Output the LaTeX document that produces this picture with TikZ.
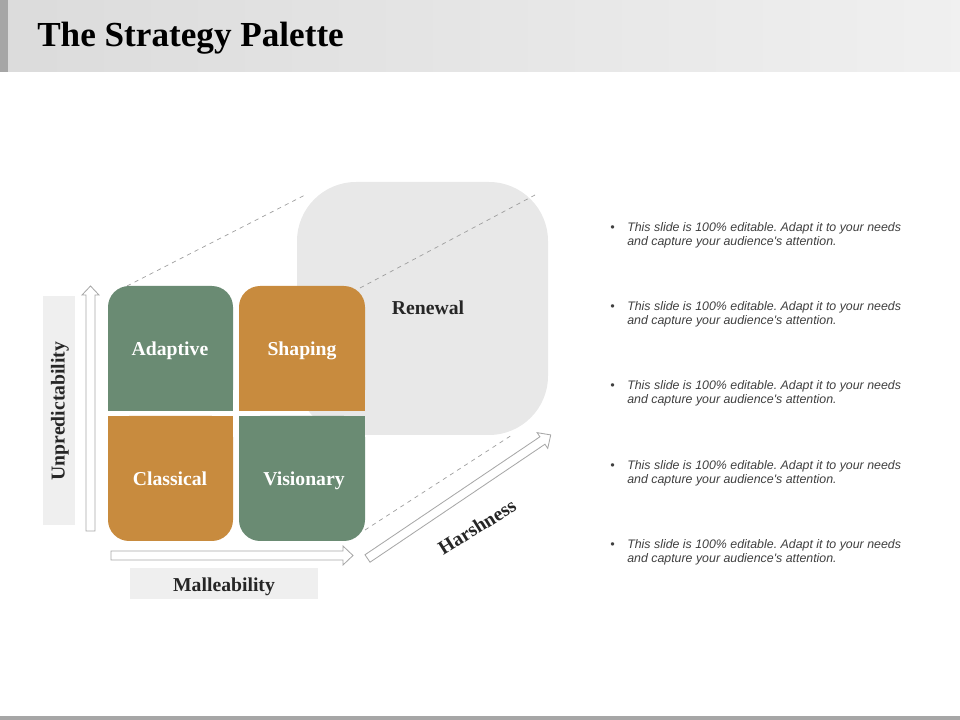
\documentclass[tikz,border=0pt]{standalone}
\usepackage{fontspec}
\setmainfont{Liberation Serif}
\newfontfamily\bodysans{Liberation Sans}
\definecolor{qgreen}{HTML}{6A8B73}
\definecolor{qorange}{HTML}{C88B3E}
\definecolor{renewalgray}{HTML}{E8E8E8}
\definecolor{labelgray}{HTML}{EFEFEF}
\definecolor{arrowgray}{HTML}{A8A8A8}
\definecolor{txtdark}{HTML}{262626}
\definecolor{bodytxt}{HTML}{3F3F3F}
\tikzset{
  quadlabel/.style={text=white, anchor=base, font=\fontsize{14}{16}\selectfont\bfseries},
  axislabel/.style={text=txtdark, font=\fontsize{14}{16}\selectfont\bfseries},
  hollowarrow/.style={draw=arrowgray, fill=white, line width=0.6pt, line join=miter},
  guide/.style={draw=black!38, dashed, line width=0.5pt},
  bullettext/.style={text=bodytxt, anchor=north west, inner sep=0pt,
    font=\bodysans\itshape\fontsize{8.8}{10}\selectfont}
}
\frenchspacing
\newcommand{\bul}[2]{\begin{tabular}{@{}l@{\hspace{9pt}}l@{}}\textbullet & #1\\ & #2\end{tabular}}
\begin{document}
\begin{tikzpicture}[x=0.025cm,y=-0.025cm]
\useasboundingbox (0,0) rectangle (960,720);
% title bar
\shade[left color=black!14, right color=black!6] (0,0) rectangle (960,72);
\fill[black!35] (0,0) rectangle (8,72);
\node[anchor=base west, inner sep=0pt, text=black, font=\fontsize{25}{28}\selectfont\bfseries] (title) at (37,47) {The Strategy Palette};
% bottom bar
\fill[black!35] (0,716) rectangle (960,720);

% renewal back panel
\fill[renewalgray, rounded corners=42] (297,182) rectangle (548,435);
\node[axislabel] (renewal) at (428,308) {Renewal};

% guide coordinates
\coordinate (g1a) at (127,286);
\coordinate (g1b) at (307,194);
\coordinate (g2a) at (360,288);
\coordinate (g2b) at (535,195);
\coordinate (g3a) at (365,530);
\coordinate (g3b) at (512,435);
\draw[guide] (g1a) -- (g1b);
\draw[guide] (g2a) -- (g2b);
\draw[guide] (g3a) -- (g3b);

% quadrants
\fill[qgreen, rounded corners=15] (108,286) rectangle (233,411);
\fill[qgreen] (108,380) rectangle (233,411);
\fill[qorange, rounded corners=15] (239,286) rectangle (365,411);
\fill[qorange] (239,380) rectangle (365,411);
\fill[qorange, rounded corners=15] (108,416) rectangle (233,541);
\fill[qorange] (108,416) rectangle (233,446);
\fill[qgreen, rounded corners=15] (239,416) rectangle (365,541);
\fill[qgreen] (239,416) rectangle (365,446);

\node[quadlabel] (adaptive) at (170,356) {Adaptive};
\node[quadlabel] (shaping) at (302,356) {Shaping};
\node[quadlabel] (classical) at (170,486) {Classical};
\node[quadlabel] (visionary) at (304,486) {Visionary};

% vertical axis arrow
\path[hollowarrow] (86,531) -- (86,295) -- (82,295) -- (90.5,286) -- (99,295) -- (95,295) -- (95,531) -- cycle;
% horizontal axis arrow
\path[hollowarrow] (111,551) -- (343,551) -- (343,546) -- (353,555.5) -- (343,565) -- (343,560) -- (111,560) -- cycle;
% harshness arrow
\begin{scope}[shift={(367.5,558.5)}, rotate=34]
\path[hollowarrow] (0,4.5) -- (211,4.5) -- (211,9.5) -- (221,0) -- (211,-9.5) -- (211,-4.5) -- (0,-4.5) -- cycle;
\end{scope}

% axis labels
\fill[labelgray] (43,296) rectangle (75,525);
\node[axislabel, rotate=90] (unpred) at (60,411) {Unpredictability};
\fill[labelgray] (130,568) rectangle (318,599);
\node[axislabel, anchor=base] (mall) at (224,591) {Malleability};
\node[axislabel, rotate=32] (harsh) at (477,527) {Harshness};

% bullet texts
\node[bullettext] (b1) at (610,221) {\bul{This slide is 100\% editable. Adapt it to your needs}{and capture your audience's attention.}};
\node[bullettext] (b2) at (610,300) {\bul{This slide is 100\% editable. Adapt it to your needs}{and capture your audience's attention.}};
\node[bullettext] (b3) at (610,379) {\bul{This slide is 100\% editable. Adapt it to your needs}{and capture your audience's attention.}};
\node[bullettext] (b4) at (610,459) {\bul{This slide is 100\% editable. Adapt it to your needs}{and capture your audience's attention.}};
\node[bullettext] (b5) at (610,538) {\bul{This slide is 100\% editable. Adapt it to your needs}{and capture your audience's attention.}};
\end{tikzpicture}
\end{document}
